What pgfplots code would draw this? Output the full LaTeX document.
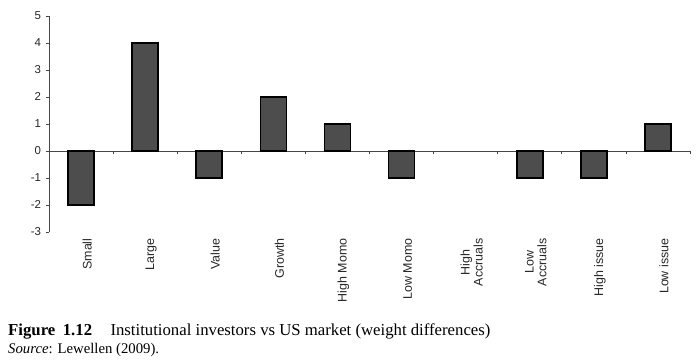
\documentclass[border=0pt]{standalone}
\usepackage{fontspec}
\setmainfont{Liberation Sans}
\newfontfamily\capfont{Liberation Serif}
\usepackage{pgfplots}
\pgfplotsset{compat=1.18}
\definecolor{barfill}{RGB}{77,77,77}
\definecolor{axgray}{RGB}{70,70,70}
\begin{document}
\begin{tikzpicture}
\useasboundingbox (0bp,0bp) rectangle (700bp,360bp);
\begin{axis}[
  at={(49bp,128bp)}, anchor=south west,
  scale only axis, width=641bp, height=216bp,
  xmin=0.5, xmax=10.5, ymin=-3, ymax=5,
  axis y line*=left, axis x line*=bottom,
  x axis line style={draw=none},
  y axis line style={draw=axgray, line width=0.8bp},
  ytick={-3,-2,...,5},
  xtick={1,...,10},
  xticklabels={Small,Large,Value,Growth,High Momo,Low Momo,{High\\Accruals},{Low\\Accruals},High issue,Low issue},
  major x tick style={draw=none},
  major y tick style={draw=axgray, line width=0.8bp},
  tick align=outside, major tick length=3bp,
  /pgf/number format/assume math mode=true,
  yticklabel style={font=\fontsize{11.5}{13}\selectfont, xshift=-1.5bp, text=black!85},
  xticklabel style={font=\fontsize{12.5}{13}\selectfont, rotate=90, anchor=east, align=center, yshift=-6bp, text=black!85},
  clip=false,
]
\draw[axgray, line width=0.8bp] (axis cs:0.5,0) -- (axis cs:10.5,0);
\pgfplotsinvokeforeach{1.5,2.5,3.5,4.5,5.5,6.5,7.5,8.5,9.5,10.5}{
  \draw[axgray, line width=0.8bp] (axis cs:#1,0) -- ([yshift=-3bp]axis cs:#1,0);
}
\addplot[ybar, bar shift=0pt, bar width=26bp, fill=barfill, draw=black, line width=1.6bp]
  coordinates {(1,-2) (2,4) (3,-1) (4,2) (5,1) (6,-1) (8,-1) (9,-1) (10,1)};
% High Accruals: zero difference, no visible bar
\addplot[ybar, bar shift=0pt, bar width=26bp, fill=none, draw=none]
  coordinates {(7,0)};
\end{axis}
\node[anchor=base west, inner sep=0] at (8bp,25bp) {\capfont\fontsize{16.8}{18}\selectfont\textbf{Figure\hspace{0.45em}1.12}\hspace{1.1em}Institutional investors vs US market (weight differences)};
\node[anchor=base west, inner sep=0] at (8bp,7bp) {\capfont\fontsize{14.8}{16}\selectfont\textit{Source}: Lewellen (2009).};
\end{tikzpicture}
\end{document}
